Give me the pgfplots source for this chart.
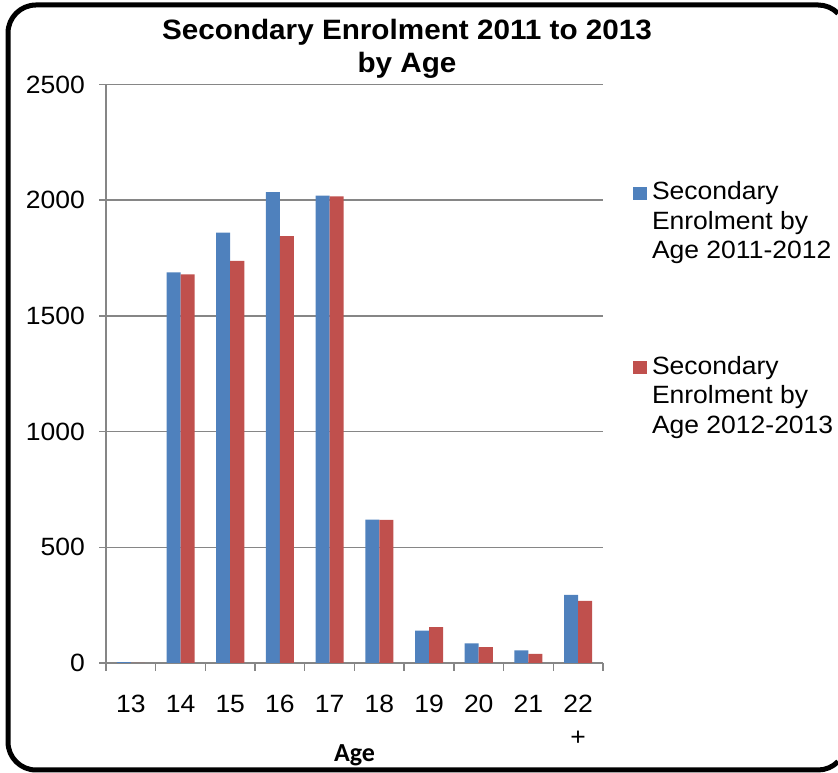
\documentclass[border=0pt]{standalone}
\usepackage{fontspec}
\setmainfont{Liberation Sans}[FakeStretch=1.06]
\newfontfamily\calibrifont{Carlito}
\usepackage{pgfplots}
\usepackage{pgfplotstable}
\pgfplotsset{compat=1.18}

\definecolor{barblue}{HTML}{4F81BD}
\definecolor{barred}{HTML}{C0504D}
\definecolor{axisgray}{HTML}{868686}

% Secondary enrolment by age (index 0 = age 13, ..., 9 = age 22+)
\pgfplotstableread{
idx enrol
0   4
1   1688
2   1860
3   2035
4   2020
5   620
6   140
7   85
8   55
9   294
}\enrolA
\pgfplotstableread{
idx enrol
0   0
1   1679
2   1738
3   1845
4   2016
5   618
6   155
7   69
8   39
9   268
}\enrolB

\begin{document}
\begin{tikzpicture}
\path[use as bounding box] (0pt,0pt) rectangle (838pt,773pt);
% rounded chart frame; its right side lies just past the page edge
\draw[overlay, line width=5pt]
  (838pt,759.6pt) arc[start angle=44.4, end angle=90, radius=28pt]
  -- (36pt,768pt) arc[start angle=90, end angle=180, radius=28pt]
  -- (8pt,31pt) arc[start angle=180, end angle=270, radius=28pt]
  -- (818pt,3pt) arc[start angle=270, end angle=315.6, radius=28pt];
% chart title
\node[font=\fontsize{28}{33}\selectfont\bfseries, align=center, anchor=north, inner sep=0pt]
  at (407pt,753.7pt) {Secondary Enrolment 2011 to 2013\\by Age};
\begin{axis}[
  at={(106pt,110pt)}, anchor=south west,
  scale only axis, width=497pt, height=578.5pt,
  ybar=0pt, bar width=14pt,
  xmin=-0.5, xmax=9.5, ymin=0, ymax=2500,
  axis lines*=left,
  axis line style={draw=axisgray, line width=1.4pt},
  xtick={0,...,9},
  xticklabels={13,14,15,16,17,18,19,20,21,{22\\+}},
  minor xtick={-0.5,0.5,...,9.5},
  ytick={0,500,...,2500},
  tick align=outside,
  major tick length=7pt, minor tick length=8pt,
  tick style={draw=axisgray, line width=1.4pt},
  major x tick style={draw=none},
  ymajorgrids,
  grid style={draw=axisgray, line width=1.4pt},
  /pgf/number format/assume math mode=true,
  /pgf/number format/1000 sep={},
  tick label style={font=\fontsize{25}{33}\selectfont},
  xticklabel style={anchor=north, inner sep=0pt, align=center, yshift=-25pt},
  yticklabel style={anchor=east, inner sep=0pt, xshift=-14pt},
  xlabel={Age},
  xlabel style={at={(axis description cs:0.5,0)}, anchor=base, inner sep=0pt,
    yshift=-99pt, font=\calibrifont\bfseries\fontsize{26}{30}\selectfont},
  legend style={at={(axis description cs:1.0604,0.8323)}, anchor=north west,
    draw=none, fill=none, inner sep=0pt, outer sep=0pt,
    row sep=96pt, column sep=5pt,
    font=\fontsize{25}{29.5}\selectfont,
    cells={align=left}, nodes={inner sep=0pt}},
  legend cell align=left,
]
\addplot[fill=barblue, draw=none,
  legend image code/.code={\fill[barblue] (0pt,21pt) rectangle (14pt,34pt);}]
  table[x=idx, y=enrol] {\enrolA};
\addlegendentry{Secondary\\Enrolment by\\Age 2011-2012}
\addplot[fill=barred, draw=none,
  legend image code/.code={\fill[barred] (0pt,21pt) rectangle (14pt,34pt);}]
  table[x=idx, y=enrol] {\enrolB};
\addlegendentry{Secondary\\Enrolment by\\Age 2012-2013}
\end{axis}
\end{tikzpicture}
\end{document}
